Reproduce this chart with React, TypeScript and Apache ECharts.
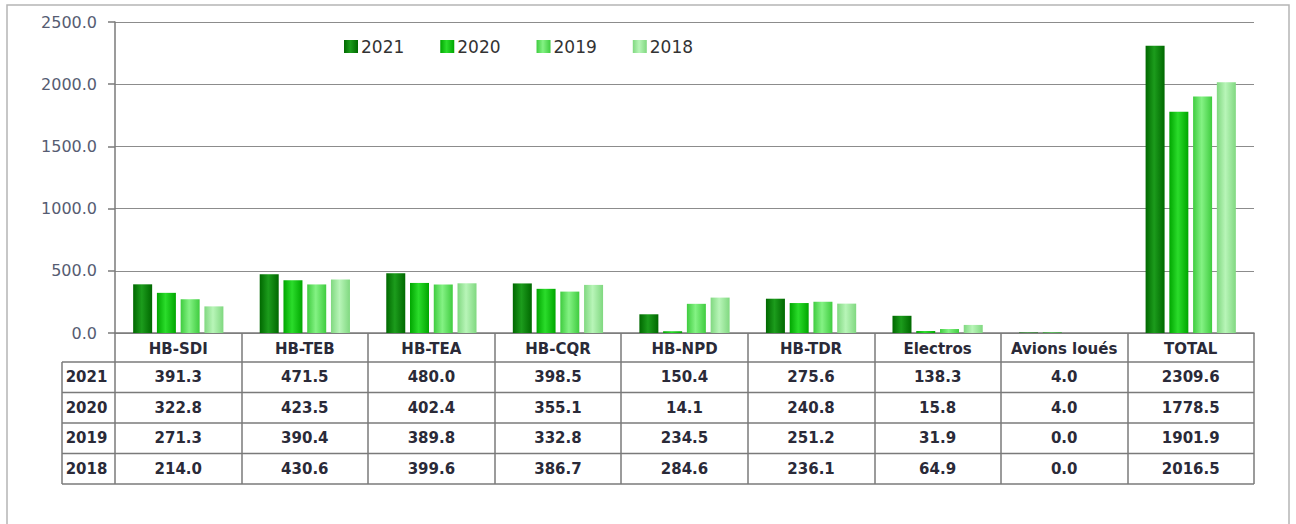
import React, { useEffect, useRef } from "react";
import * as echarts from "echarts";

const categories = ["HB-SDI", "HB-TEB", "HB-TEA", "HB-CQR", "HB-NPD", "HB-TDR", "Electros", "Avions loués", "TOTAL"];
const years = ["2021", "2020", "2019", "2018"];
const values2021 = [391.3, 471.5, 480.0, 398.5, 150.4, 275.6, 138.3, 4.0, 2309.6];
const values2020 = [322.8, 423.5, 402.4, 355.1, 14.1, 240.8, 15.8, 4.0, 1778.5];
const values2019 = [271.3, 390.4, 389.8, 332.8, 234.5, 251.2, 31.9, 0.0, 1901.9];
const values2018 = [214.0, 430.6, 399.6, 386.7, 284.6, 236.1, 64.9, 0.0, 2016.5];
const yTicks = [0, 500, 1000, 1500, 2000, 2500];

const seriesValues = [values2021, values2020, values2019, values2018];

const W = 1296;
const H = 524;
const GRID_LEFT = 115;
const GRID_RIGHT = 1254;
const GRID_TOP = 22;
const GRID_BOTTOM_Y = 333;
const HEADER_H = 29;
const ROW_H = 30.5;
const TABLE_LEFT = 62;
const FONT = "DejaVu Sans";
const LINE = "#7a7a7a";

const palette = [
  ["#006800", "#1c9c1c"],
  ["#00a600", "#2bdc2b"],
  ["#3fcc3f", "#84f284"],
  ["#80d880", "#b8f5b8"],
];

function grad(edge: string, mid: string) {
  return new echarts.graphic.LinearGradient(0, 0, 1, 0, [
    { offset: 0, color: edge },
    { offset: 0.45, color: mid },
    { offset: 1, color: edge },
  ]);
}

export default function App() {
  const ref = useRef<HTMLDivElement>(null);
  useEffect(() => {
    document.body.style.margin = "0";
    if (!ref.current) return;
    const chart = echarts.init(ref.current, undefined, { renderer: "svg" });
    const tableH = HEADER_H + ROW_H * years.length;
    chart.setOption({
      animation: false,
      textStyle: { fontFamily: FONT },
      grid: {
        left: GRID_LEFT,
        right: W - GRID_RIGHT,
        top: GRID_TOP,
        bottom: H - GRID_BOTTOM_Y,
        containLabel: false,
      },
      legend: {
        data: years,
        left: 339,
        top: 33,
        itemWidth: 14,
        itemHeight: 13,
        itemGap: 36,
        icon: "rect",
        textStyle: { fontSize: 17, color: "#333", fontFamily: FONT, padding: [0, 0, 0, -2] },
      },
      xAxis: {
        type: "category",
        data: categories,
        axisLine: { show: true, lineStyle: { color: LINE, width: 1.5 } },
        axisTick: {
          show: true,
          interval: 0,
          length: tableH,
          alignWithLabel: false,
          lineStyle: { color: LINE, width: 1.5 },
        },
        axisLabel: {
          interval: 0,
          margin: 8,
          fontSize: 15,
          fontWeight: "bold",
          color: "#2a2a38",
          fontFamily: FONT,
        },
      },
      yAxis: {
        type: "value",
        min: yTicks[0],
        max: yTicks[yTicks.length - 1],
        interval: yTicks[1] - yTicks[0],
        axisLine: { show: true, lineStyle: { color: LINE, width: 1.5 } },
        axisTick: { show: true, length: 7, lineStyle: { color: LINE, width: 1.5 } },
        axisLabel: {
          margin: 18,
          fontSize: 16,
          color: "#565c72",
          fontFamily: FONT,
          formatter: (v: number) => v.toFixed(1),
        },
        splitLine: { show: true, lineStyle: { color: "#8c8c8c", width: 1.2 } },
      },
      series: years.map((y, i) => ({
        name: y,
        type: "bar",
        data: seriesValues[i],
        barWidth: 19,
        barGap: "25%",
        itemStyle: { color: grad(palette[i][0], palette[i][1]) },
      })),
    });

    const graphics: any[] = [];
    graphics.push({
      type: "rect",
      z: -10,
      shape: { x: 7, y: 5, width: 1282, height: 540 },
      style: { fill: "none", stroke: "#b5b5b5", lineWidth: 1.5 },
    });
    const headerBottom = GRID_BOTTOM_Y + HEADER_H;
    for (let k = 0; k <= years.length; k++) {
      const y = headerBottom + ROW_H * k;
      graphics.push({
        type: "line",
        shape: { x1: TABLE_LEFT, y1: y, x2: GRID_RIGHT, y2: y },
        style: { stroke: LINE, lineWidth: 1.5 },
      });
    }
    graphics.push({
      type: "line",
      shape: { x1: TABLE_LEFT, y1: headerBottom, x2: TABLE_LEFT, y2: headerBottom + ROW_H * years.length },
      style: { stroke: LINE, lineWidth: 1.5 },
    });
    years.forEach((yr, k) => {
      const cy = headerBottom + ROW_H * (k + 0.5);
      graphics.push({
        type: "text",
        x: (TABLE_LEFT + GRID_LEFT) / 2 - 2,
        y: cy,
        style: {
          text: yr,
          align: "center",
          verticalAlign: "middle",
          fontSize: 15,
          fontWeight: "bold",
          fill: "#2a2a38",
          fontFamily: FONT,
        },
      });
      seriesValues[k].forEach((v, i) => {
        const px = chart.convertToPixel({ xAxisIndex: 0 }, categories[i]) as number;
        graphics.push({
          type: "text",
          x: px,
          y: cy,
          style: {
            text: v.toFixed(1),
            align: "center",
            verticalAlign: "middle",
            fontSize: 15,
            fontWeight: "bold",
            fill: "#2a2a38",
            fontFamily: FONT,
          },
        });
      });
    });
    chart.setOption({ graphic: graphics });

    return () => chart.dispose();
  }, []);
  return <div ref={ref} style={{ width: W, height: H }} />;
}
